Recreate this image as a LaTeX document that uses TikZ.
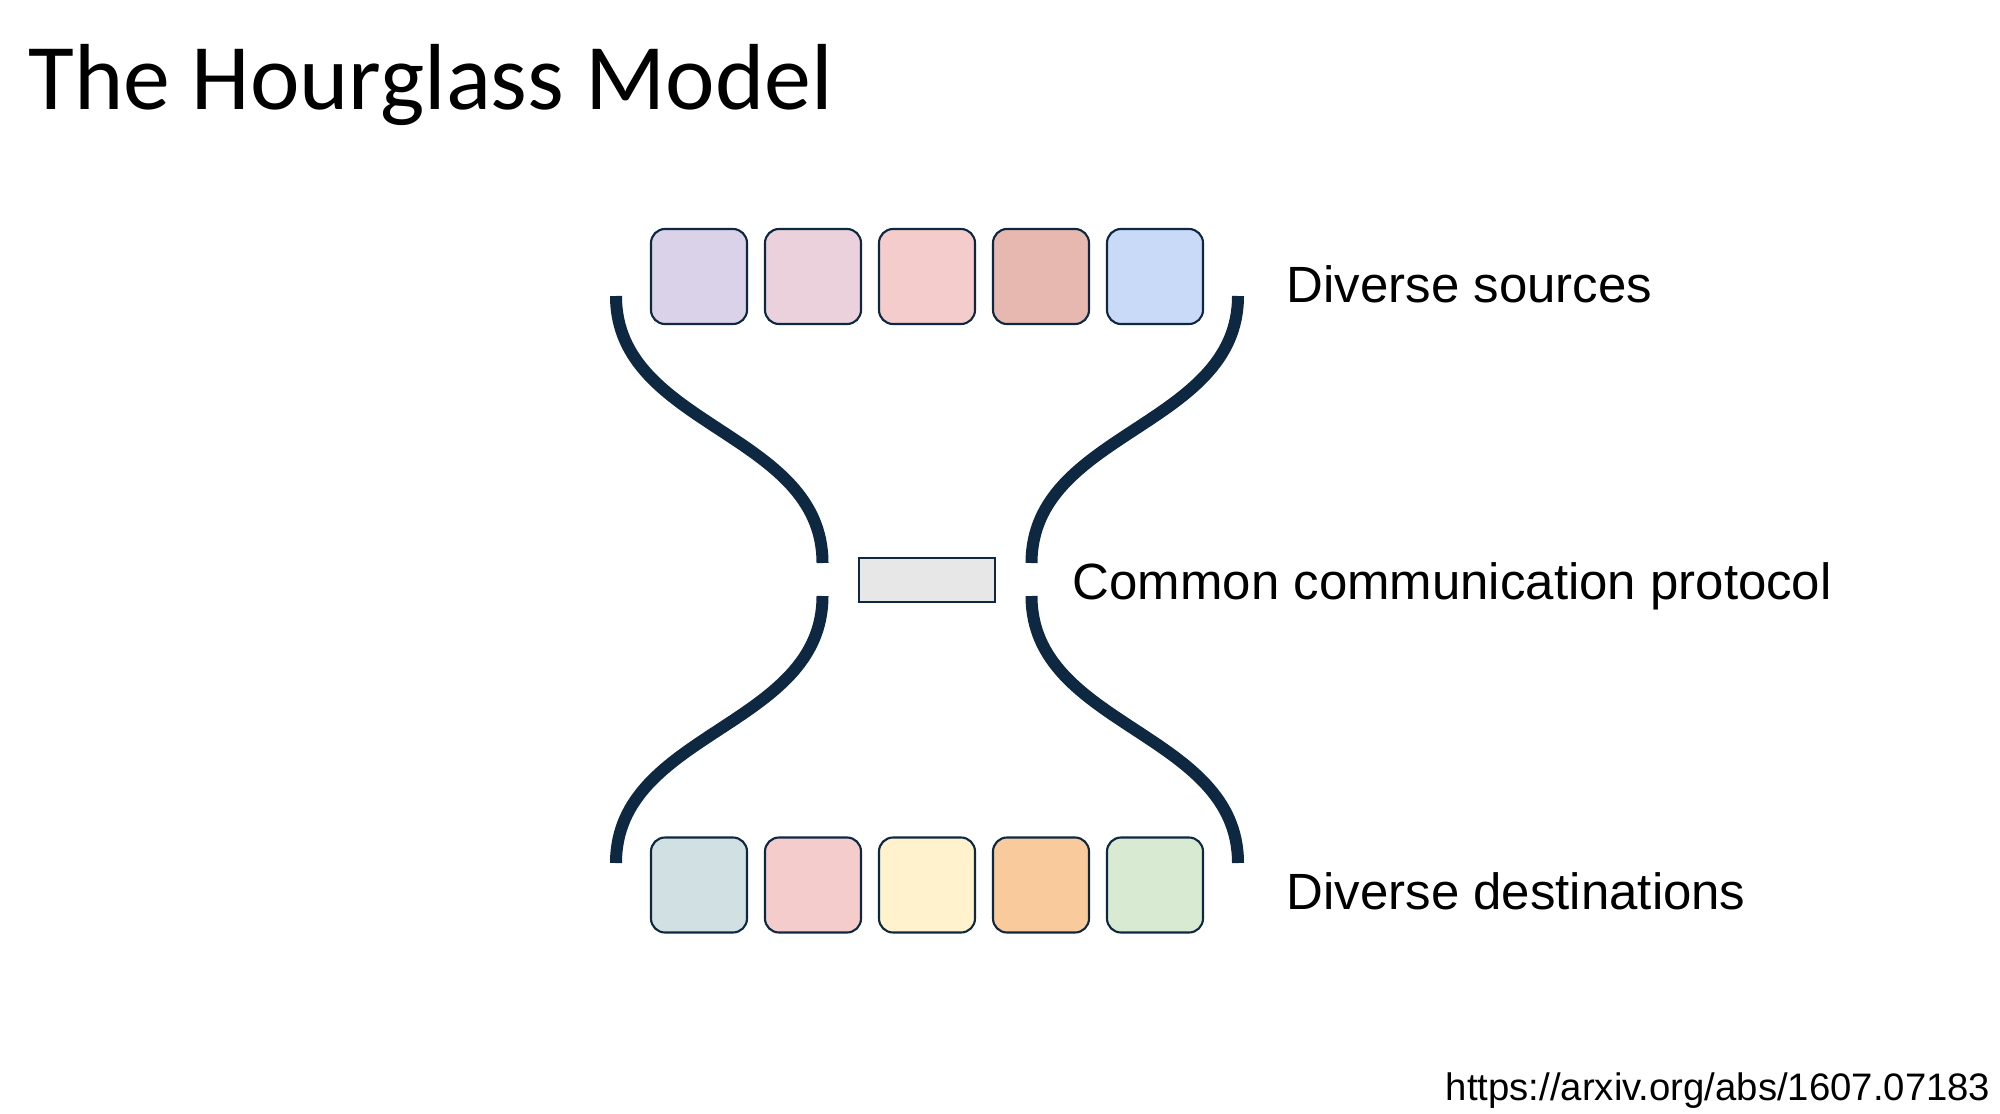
\documentclass[tikz,border=0pt]{standalone}
\usepackage{fontspec}
\setmainfont{Liberation Sans}
\newfontfamily\titlefont{Carlito}
\usepackage{tikz}
\usetikzlibrary{positioning, calc}

\definecolor{navy}{HTML}{0E2841}
\definecolor{waistgray}{HTML}{E7E7E7}
% top row
\definecolor{srcA}{HTML}{D9D2E9}
\definecolor{srcB}{HTML}{EAD1DC}
\definecolor{srcC}{HTML}{F4CCCC}
\definecolor{srcD}{HTML}{E6B8AF}
\definecolor{srcE}{HTML}{C9DAF8}
% bottom row
\definecolor{dstA}{HTML}{D0E0E3}
\definecolor{dstB}{HTML}{F4CCCC}
\definecolor{dstC}{HTML}{FFF2CC}
\definecolor{dstD}{HTML}{F9CB9C}
\definecolor{dstE}{HTML}{D9EAD3}

\tikzset{
	layerbox/.style = {draw=navy, line width=0.6pt, rounded corners=0.14cm,
		minimum width=0.96cm, minimum height=0.95cm, inner sep=0pt},
	waistbox/.style = {draw=navy, fill=waistgray, line width=0.6pt,
		minimum width=1.36cm, minimum height=0.44cm, inner sep=0pt},
	funnel/.style = {draw=navy, line width=0.12cm, line cap=butt},
	sidetext/.style = {anchor=base west, inner sep=0pt, font=\fontsize{14.5}{17}\selectfont}
}

\begin{document}
\begin{tikzpicture}
	\useasboundingbox (0,0) rectangle (20,11.13);

	\node[anchor=base west, inner sep=0pt, font=\titlefont\fontsize{26.7}{32}\selectfont] (title) at (0.28,10.04) {The Hourglass Model};

	% the two rows of boxes
	\foreach \c [count=\i] in {srcA,srcB,srcC,srcD,srcE}
		\node[layerbox, fill=\c] (src\i) at ({5.85+1.14*\i},8.365) {};
	\foreach \c [count=\i] in {dstA,dstB,dstC,dstD,dstE}
		\node[layerbox, fill=\c] (dst\i) at ({5.85+1.14*\i},2.28) {};

	\node[waistbox] (proto) at (9.27,5.33) {};

	% ends of the funnel lines
	\coordinate (lt) at (6.16,8.17);
	\coordinate (lu) at (8.225,5.50);
	\coordinate (ll) at (8.225,5.17);
	\coordinate (lb) at (6.16,2.50);
	\coordinate (rt) at (12.38,8.17);
	\coordinate (ru) at (10.315,5.50);
	\coordinate (rl) at (10.315,5.17);
	\coordinate (rb) at (12.38,2.50);

	\draw[funnel] (lt) to[out=-90, in=90] (lu);
	\draw[funnel] (ll) to[out=-90, in=90] (lb);
	\draw[funnel] (rt) to[out=-90, in=90] (ru);
	\draw[funnel] (rl) to[out=-90, in=90] (rb);

	\node[sidetext] (srclabel) at (12.86,8.11) {Diverse sources};
	\node[sidetext] (protolabel) at (10.72,5.14) {Common communication protocol};
	\node[sidetext] (dstlabel) at (12.86,2.04) {Diverse destinations};

	\node[anchor=base east, inner sep=0pt, font=\fontsize{10.9}{13}\selectfont] (ref) at (19.91,0.13) {https://arxiv.org/abs/1607.07183};
\end{tikzpicture}
\end{document}
